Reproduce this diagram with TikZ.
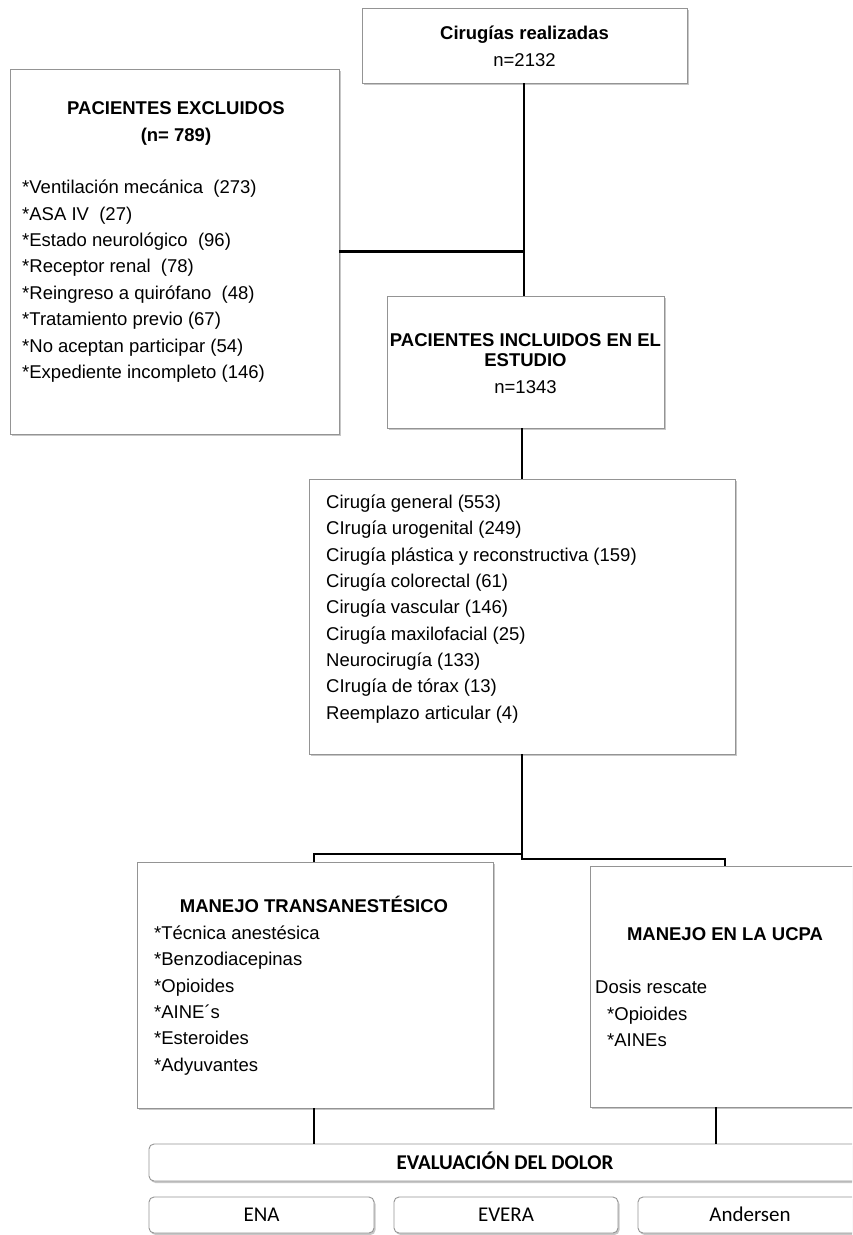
\documentclass[tikz,border=0pt]{standalone}
\usepackage{fontspec}
\setmainfont{Liberation Sans}
\newfontfamily\calfont{Carlito}
\usetikzlibrary{shadows}
\definecolor{boxgray}{HTML}{949494}
\newcommand{\fs}{\fontsize{18.5}{22}\selectfont}
\newcommand{\cfs}{\fontsize{21}{24}\selectfont\calfont}
\begin{document}
\begin{tikzpicture}[x=1pt,y=-1pt,
  box/.style={draw=boxgray, line width=0.9pt, fill=white, inner sep=0pt,
    drop shadow={shadow xshift=1.5pt, shadow yshift=-2pt, fill=black, opacity=0.22}},
  rbox/.style={box, rounded corners=5pt},
  conn/.style={line width=2.7pt, black},
  txt/.style={inner sep=0pt, text height=13.3pt, text depth=0pt, font=\fs},
  btxt/.style={txt, font=\fs\bfseries},
  ctxt/.style={inner sep=0pt, text height=13.5pt, text depth=0pt, font=\cfs},
]
\useasboundingbox (0,0) rectangle (852,1235);
\clip (0,0) rectangle (852,1235);

% boxes
\node[box, minimum width=325pt, minimum height=75pt] (A) at (524.5,45.5) {};
\node[box, minimum width=329pt, minimum height=365pt] (B) at (174.5,251.5) {};
\node[box, minimum width=277pt, minimum height=132pt] (C) at (525.5,362) {};
\node[box, minimum width=426pt, minimum height=275pt] (D) at (522,616.5) {};
\node[box, minimum width=356pt, minimum height=246pt] (E) at (315,985) {};
\node[box, minimum width=280pt, minimum height=241pt] (F) at (730,986.5) {};
\node[rbox, minimum width=713pt, minimum height=37pt] (Ev) at (505.5,1162.5) {};
\node[rbox, minimum width=225pt, minimum height=36pt] (ENA) at (261.5,1215) {};
\node[rbox, minimum width=224pt, minimum height=36pt] (EVERA) at (506,1215) {};
\node[rbox, minimum width=224pt, minimum height=36pt] (AND) at (750,1215) {};

% texts
\node[btxt] (a1) at (524.5,33) {Cirugías realizadas};
\node[txt] (a2) at (524.5,60) {n=2132};

\node[btxt] (b1) at (176,108) {PACIENTES EXCLUIDOS};
\node[btxt] (b2) at (176,135) {(n= 789)};
\foreach \t [count=\i from 0] in {{*Ventilación mecánica~~(273)},{*ASA IV~~(27)},{*Estado neurológico~~(96)},{*Receptor renal~~(78)},{*Reingreso a quirófano~~(48)},{*Tratamiento previo (67)},{*No aceptan participar (54)},{*Expediente incompleto (146)}}
  \node[txt, anchor=west] (bi\i) at (22,187+26.4*\i) {\t};

\node[btxt] (c1) at (525.5,340) {PACIENTES INCLUIDOS EN EL};
\node[btxt] (c2) at (525.5,360) {ESTUDIO};
\node[txt] (c3) at (525.5,387) {n=1343};

\foreach \t [count=\i from 0] in {{Cirugía general (553)},{CIrugía urogenital (249)},{Cirugía plástica y reconstructiva (159)},{Cirugía colorectal (61)},{Cirugía vascular (146)},{Cirugía maxilofacial (25)},{Neurocirugía (133)},{CIrugía de tórax (13)},{Reemplazo articular (4)}}
  \node[txt, anchor=west] (di\i) at (326,502+26.3*\i) {\t};

\node[btxt] (e1) at (314,906) {MANEJO TRANSANESTÉSICO};
\foreach \t [count=\i from 0] in {{*Técnica anestésica},{*Benzodiacepinas},{*Opioides},{*AINE´s},{*Esteroides},{*Adyuvantes}}
  \node[txt, anchor=west] (ei\i) at (154,933+26.3*\i) {\t};

\node[btxt] (f1) at (725,934) {MANEJO EN LA UCPA};
\node[txt, anchor=west] (f2) at (595,987) {Dosis rescate};
\node[txt, anchor=west] (f3) at (607,1014) {*Opioides};
\node[txt, anchor=west] (f4) at (607,1040) {*AINEs};

\node[ctxt, font=\cfs\bfseries] (ev) at (505,1163) {EVALUACIÓN DEL DOLOR};
\node[ctxt] (t1) at (ENA) {ENA};
\node[ctxt] (t2) at (EVERA) {EVERA};
\node[ctxt] (t3) at (AND) {Andersen};

% connectors
\draw[conn] (A.south -| 524,0) -- (C.north -| 524,0);
\draw[conn] (B.east) -- (B.east -| 524,0);
\draw[conn] (C.south -| 522,0) -- (D.north -| 522,0);
\coordinate (jL) at (314,854);
\coordinate (jR) at (725,859);
\draw[conn] (D.south -| 522,0) -- (jR -| 522,0) -- (jR) -- (jR |- F.north);
\draw[conn] (jL -| 522,0) -- (jL) -- (jL |- E.north);
\draw[conn] (E.south -| 314,0) -- (Ev.north -| 314,0);
\coordinate (fx) at (716,1107);
\draw[conn] (fx) -- (fx |- Ev.north);
\end{tikzpicture}
\end{document}
